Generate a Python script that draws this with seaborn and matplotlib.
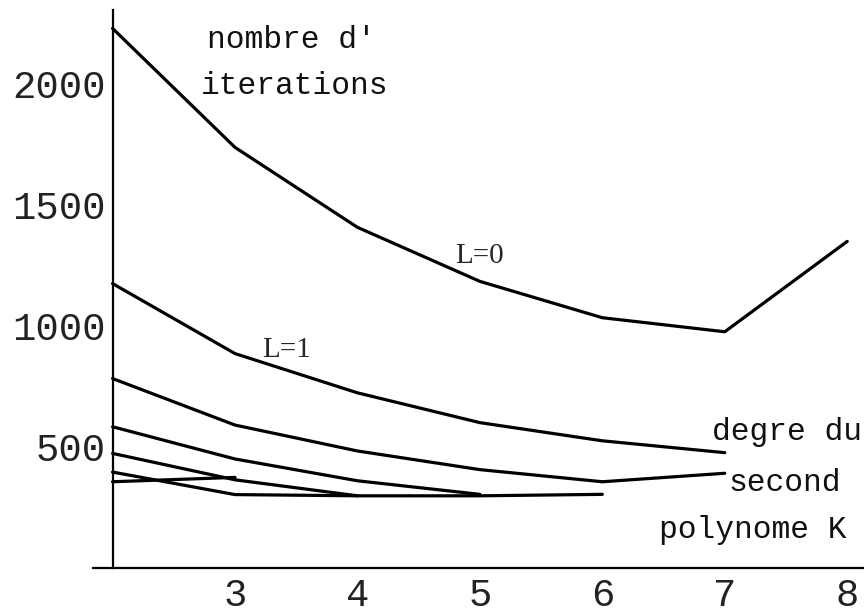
import pandas as pd
import numpy as np
import matplotlib
matplotlib.use("Agg")
import matplotlib.pyplot as plt
import seaborn as sns

# degre du second polynome K
K = [2, 3, 4, 5, 6, 7, 8]

# nombre d'iterations, one curve per L
it_L0 = [2229, 1738, 1408, 1185, 1035, 977, 1350]
it_L1 = [1176, 887, 725, 602, 527, 478]
it_L2 = [784, 592, 485, 408, 358, 393]
it_L3 = [585, 452, 362, 306]
it_L4 = [475, 366, 300]
it_L5 = [398, 305, 300, 300, 306]
it_L6 = [358, 376]

curves = {0: it_L0, 1: it_L1, 2: it_L2, 3: it_L3, 4: it_L4, 5: it_L5, 6: it_L6}

# long form table for seaborn
rows = []
for L, vals in curves.items():
    for k, v in zip(K, vals):
        rows.append({"K": k, "iterations": v, "L": L})
df = pd.DataFrame(rows)

sns.set_style("white")
plt.rcParams["font.family"] = ["Liberation Mono", "DejaVu Sans Mono"]

fig = plt.figure(figsize=(8.64, 6.13), dpi=100)
ax = fig.add_axes([0.1076, 0.0726, 0.8914, 0.9111])

sns.lineplot(data=df, x="K", y="iterations", units="L", estimator=None,
             color="black", linewidth=2.3, sort=False, ax=ax)

ax.set_xlim(1.84, 8.13)
ax.set_ylim(0, 2305)
ax.spines["left"].set_position(("data", 2))
ax.spines["top"].set_visible(False)
ax.spines["right"].set_visible(False)
for s in ["left", "bottom"]:
    ax.spines[s].set_linewidth(1.6)
    ax.spines[s].set_color("black")

ax.set_xticks([3, 4, 5, 6, 7, 8])
ax.set_yticks([500, 1000, 1500, 2000])
ax.tick_params(axis="x", direction="inout", length=10, width=1.3, pad=2,
               labelsize=28, colors="#222222")
ax.tick_params(axis="y", direction="inout", length=8, width=1.3, pad=1,
               labelsize=28, colors="#222222")
ax.set_xlabel("")
ax.set_ylabel("")

# annotations
lab = dict(ha="center", va="center", fontsize=22.5, color="#111111")
ax.text(0.258, 0.946, "nombre d\u2032", transform=ax.transAxes, **lab)
ax.text(0.262, 0.864, "iterations", transform=ax.transAxes, **lab)
ax.text(5.0, 1290, "L=0", ha="center", va="center", fontsize=21,
        family="Liberation Serif")
ax.text(3.42, 900, "L=1", ha="center", va="center", fontsize=21,
        family="Liberation Serif")
lab_r = dict(ha="right", va="center", fontsize=22.5, color="#111111")
ax.text(0.999, 0.244, "degre du", transform=ax.transAxes, **lab_r)
ax.text(0.971, 0.153, "second", transform=ax.transAxes, **lab_r)
ax.text(0.978, 0.069, "polynome K", transform=ax.transAxes, **lab_r)

fig.savefig("out.png", dpi=100)
